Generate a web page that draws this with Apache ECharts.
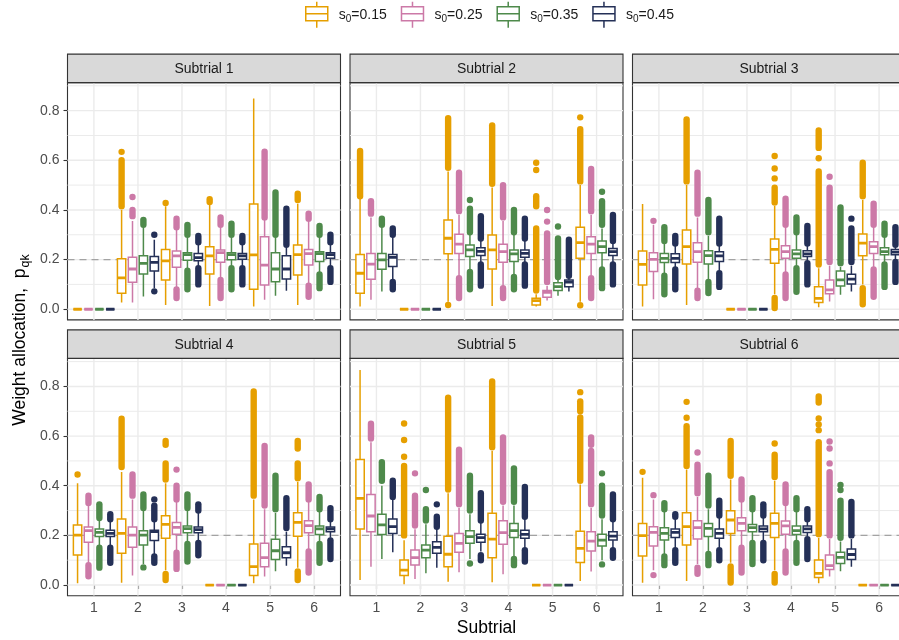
<!DOCTYPE html>
<html><head><meta charset="utf-8">
<script src="https://cdn.jsdelivr.net/npm/echarts@6/dist/echarts.min.js"></script>
<style>html,body{margin:0;padding:0;background:#fff}#c{width:899px;height:640px}</style>
</head><body><div id="c"></div>
<script>
const categories = ['1','2','3','4','5','6'];
const seriesNames = ['s0=0.15','s0=0.25','s0=0.35','s0=0.45'];
const facetTitles = ['Subtrial 1','Subtrial 2','Subtrial 3','Subtrial 4','Subtrial 5','Subtrial 6'];
const yTicks = [0, 0.2, 0.4, 0.6, 0.8];
const yMinorTicks = [0.1, 0.3, 0.5, 0.7, 0.9];
const refLine = 0.2;

// Box statistics per category: [lower whisker, Q1, median, Q3, upper whisker]; one row per s0 value
// Outliers per category: number = single point, [a, b] = dense run of overlapping points from a to b
const sub1Stats = [
  [[0,0,0,0,0],[0.027,0.064,0.126,0.203,0.40],[0.017,0.118,0.195,0.241,0.415],[0.013,0.142,0.215,0.252,0.42],[0.011,0.08,0.219,0.424,0.849],[0.017,0.138,0.22,0.259,0.425]],
  [[0,0,0,0,0],[0.027,0.109,0.162,0.209,0.355],[0.09,0.169,0.215,0.235,0.32],[0.13,0.189,0.228,0.239,0.33],[0.038,0.098,0.178,0.292,0.36],[0.105,0.178,0.224,0.241,0.355]],
  [[0,0,0,0,0],[0.051,0.142,0.185,0.215,0.33],[0.165,0.197,0.22,0.228,0.29],[0.175,0.199,0.22,0.228,0.29],[0.054,0.111,0.162,0.228,0.29],[0.15,0.192,0.224,0.232,0.29]],
  [[0,0,0,0,0],[0.085,0.154,0.189,0.212,0.28],[0.175,0.195,0.208,0.225,0.26],[0.175,0.201,0.215,0.225,0.26],[0.074,0.122,0.162,0.215,0.25],[0.175,0.205,0.22,0.228,0.26]]
];
const sub1Outliers = [
  [[],[[0.415,0.60],0.634],[0.428],[[0.432,0.443]],[],[[0.44,0.465]]],
  [[],[[0.375,0.40],0.452],[[0.33,0.365],[0.045,0.08]],[[0.34,0.37],[0.045,0.118]],[[0.37,0.635]],[[0.365,0.385],[0.05,0.095]]],
  [[],[[0.34,0.36]],[[0.30,0.34],[0.08,0.155]],[[0.30,0.345],[0.08,0.165]],[[0.30,0.47]],[[0.30,0.335],[0.085,0.14]]],
  [[],[0.30,0.072],[[0.27,0.295],[0.10,0.165]],[[0.27,0.295],[0.10,0.165]],[[0.26,0.405]],[[0.27,0.30],[0.11,0.165]]]
];
const sub2Stats = [
  [[0.011,0.064,0.145,0.22,0.445],[0,0,0,0,0],[0.03,0.223,0.286,0.359,0.555],[0.013,0.162,0.239,0.299,0.49],[0.011,0.017,0.035,0.044,0.06],[0.03,0.205,0.268,0.33,0.50]],
  [[0.038,0.121,0.182,0.225,0.37],[0,0,0,0,0],[0.135,0.225,0.262,0.302,0.38],[0.095,0.189,0.232,0.262,0.355],[0.035,0.048,0.068,0.075,0.095],[0.135,0.225,0.262,0.292,0.38]],
  [[0.071,0.161,0.199,0.225,0.33],[0,0,0,0,0],[0.16,0.212,0.239,0.259,0.30],[0.14,0.192,0.223,0.239,0.30],[0.054,0.075,0.091,0.107,0.12],[0.17,0.228,0.252,0.275,0.325]],
  [[0.12,0.172,0.209,0.22,0.29],[0,0,0,0,0],[0.19,0.216,0.233,0.248,0.275],[0.19,0.209,0.225,0.239,0.275],[0.071,0.091,0.109,0.118,0.125],[0.19,0.216,0.232,0.245,0.265]]
];
const sub2Outliers = [
  [[[0.455,0.638]],[],[[0.57,0.77],0.017],[[0.505,0.74]],[[0.075,0.325],[0.415,0.455],0.561,0.59],[[0.515,0.725],0.773,0.016]],
  [[[0.385,0.435]],[],[[0.395,0.55],[0.045,0.125]],[[0.37,0.50],[0.045,0.085]],[[0.11,0.305],0.353,0.40],[[0.395,0.565],[0.045,0.125]]],
  [[[0.34,0.365]],[],[[0.31,0.405],0.44,[0.08,0.15]],[[0.31,0.40],[0.08,0.13]],[[0.13,0.285],0.333],[[0.34,0.435],0.473,[0.085,0.16]]],
  [[[0.30,0.325],[0.08,0.11]],[],[[0.285,0.375],[0.095,0.18]],[[0.285,0.365],[0.095,0.18]],[[0.135,0.28]],[[0.275,0.38],[0.10,0.18]]]
];
const sub3Stats = [
  [[0.011,0.098,0.181,0.235,0.424],[0.017,0.182,0.252,0.319,0.50],[0,0,0,0,0],[0.06,0.185,0.241,0.283,0.416],[0.008,0.027,0.044,0.091,0.165],[0.10,0.215,0.266,0.303,0.44]],
  [[0.04,0.152,0.201,0.228,0.34],[0.085,0.189,0.232,0.268,0.37],[0,0,0,0,0],[0.15,0.205,0.232,0.256,0.33],[0.031,0.062,0.078,0.118,0.175],[0.17,0.225,0.252,0.272,0.33]],
  [[0.145,0.188,0.205,0.225,0.265],[0.12,0.182,0.216,0.236,0.295],[0,0,0,0,0],[0.175,0.205,0.223,0.239,0.30],[0.058,0.094,0.118,0.154,0.17],[0.19,0.219,0.232,0.248,0.29]],
  [[0.17,0.188,0.205,0.223,0.255],[0.155,0.192,0.215,0.232,0.255],[0,0,0,0,0],[0.195,0.212,0.223,0.236,0.255],[0.071,0.102,0.121,0.141,0.175],[0.20,0.219,0.23,0.241,0.25]]
];
const sub3Outliers = [
  [[],[[0.515,0.765]],[],[[0.43,0.49],0.527,0.567,0.617,[0.005,0.045]],[[0.18,0.555],0.608,[0.65,0.72]],[[0.455,0.59],[0.02,0.085]]],
  [[0.356],[[0.385,0.55],[0.045,0.075]],[],[[0.34,0.445],[0.045,0.14]],[[0.19,0.49],0.534],[[0.34,0.425],[0.05,0.16]]],
  [[[0.275,0.33],[0.06,0.135]],[[0.31,0.44],[0.065,0.11]],[],[[0.31,0.37],[0.07,0.165]],[[0.185,0.41]],[[0.30,0.345],[0.09,0.18]]],
  [[[0.265,0.295],[0.08,0.16]],[[0.265,0.365],[0.09,0.145]],[],[[0.265,0.335],[0.10,0.185]],[[0.19,0.325],0.365],[[0.26,0.33],[0.11,0.19]]]
];
const sub4Stats = [
  [[0.007,0.121,0.201,0.242,0.41],[0.009,0.128,0.208,0.266,0.455],[0.06,0.188,0.244,0.279,0.41],[0,0,0,0,0],[0.007,0.038,0.074,0.165,0.345],[0.07,0.197,0.252,0.291,0.415]],
  [[0.09,0.172,0.219,0.234,0.32],[0.038,0.152,0.201,0.234,0.345],[0.14,0.205,0.232,0.252,0.335],[0,0,0,0,0],[0.034,0.074,0.11,0.168,0.305],[0.145,0.211,0.239,0.259,0.335]],
  [[0.16,0.195,0.212,0.226,0.26],[0.085,0.161,0.201,0.219,0.30],[0.175,0.211,0.227,0.238,0.30],[0,0,0,0,0],[0.056,0.103,0.138,0.184,0.29],[0.175,0.204,0.226,0.238,0.295]],
  [[0.16,0.195,0.208,0.221,0.255],[0.125,0.179,0.215,0.221,0.255],[0.18,0.211,0.223,0.234,0.29],[0,0,0,0,0],[0.078,0.11,0.13,0.154,0.215],[0.19,0.215,0.226,0.234,0.255]]
];
const sub4Outliers = [
  [[0.445],[[0.475,0.67]],[[0.425,0.49],[0.565,0.58],[0.02,0.045]],[],[[0.36,0.78]],[[0.43,0.49],[0.55,0.58],[0.02,0.055]]],
  [[[0.33,0.36],[0.035,0.08]],[[0.36,0.445]],[[0.345,0.40],0.465,[0.065,0.13]],[],[[0.32,0.56]],[[0.345,0.405],[0.05,0.135]]],
  [[[0.27,0.325],[0.07,0.15]],[[0.31,0.365],0.071],[[0.31,0.365],[0.095,0.165]],[],[[0.305,0.44]],[[0.305,0.355],[0.09,0.165]]],
  [[[0.265,0.285],[0.09,0.15]],[[0.265,0.32],0.345,[0.09,0.115]],[[0.30,0.325],[0.12,0.17]],[],[[0.23,0.35]],[[0.265,0.31],[0.105,0.18]]]
];
const sub5Stats = [
  [[0.02,0.226,0.349,0.506,0.866],[0.003,0.038,0.06,0.101,0.18],[0.013,0.074,0.124,0.197,0.37],[0.011,0.11,0.185,0.289,0.54],[0,0,0,0,0],[0.016,0.091,0.148,0.217,0.405]],
  [[0.074,0.215,0.278,0.365,0.575],[0.024,0.081,0.11,0.141,0.225],[0.051,0.132,0.168,0.208,0.31],[0.043,0.164,0.211,0.259,0.32],[0,0,0,0,0],[0.054,0.137,0.177,0.215,0.31]],
  [[0.105,0.204,0.242,0.285,0.40],[0.047,0.11,0.141,0.161,0.245],[0.105,0.168,0.195,0.219,0.285],[0.115,0.191,0.219,0.248,0.32],[0,0,0,0,0],[0.10,0.157,0.181,0.205,0.265]],
  [[0.132,0.208,0.235,0.266,0.345],[0.07,0.128,0.152,0.174,0.225],[0.135,0.172,0.191,0.205,0.25],[0.15,0.188,0.204,0.221,0.265],[0,0,0,0,0],[0.15,0.181,0.197,0.215,0.255]]
];
const sub5Outliers = [
  [[],[[0.2,0.48],0.517,0.584,0.651],[[0.385,0.755]],[[0.555,0.82]],[],[[0.42,0.675],[0.70,0.74],0.777]],
  [[[0.59,0.65]],[[0.24,0.36],0.45],[[0.325,0.545]],[[0.335,0.595]],[],[[0.325,0.54],[0.565,0.595]]],
  [[[0.42,0.495]],[[0.26,0.305],0.383],[[0.30,0.44],0.087],[[0.335,0.47],[0.08,0.105]],[],[[0.28,0.40],0.45,0.083]],
  [[[0.355,0.42]],[[0.235,0.275],0.325],[[0.26,0.37],[0.10,0.12]],[[0.275,0.395],[0.095,0.14]],[],[[0.265,0.365],[0.11,0.14]]]
];
const sub6Stats = [
  [[0.009,0.117,0.199,0.248,0.432],[0.016,0.161,0.235,0.291,0.465],[0.09,0.208,0.262,0.299,0.425],[0.06,0.191,0.248,0.289,0.42],[0.007,0.03,0.047,0.101,0.19],[0,0,0,0,0]],
  [[0.06,0.157,0.212,0.235,0.345],[0.085,0.185,0.231,0.259,0.355],[0.16,0.219,0.248,0.271,0.335],[0.145,0.205,0.238,0.258,0.32],[0.034,0.063,0.078,0.121,0.185],[0,0,0,0,0]],
  [[0.125,0.181,0.208,0.231,0.295],[0.135,0.195,0.228,0.248,0.305],[0.18,0.215,0.231,0.244,0.295],[0.18,0.204,0.219,0.238,0.295],[0.056,0.087,0.111,0.132,0.175],[0,0,0,0,0]],
  [[0.15,0.191,0.212,0.226,0.265],[0.15,0.188,0.208,0.226,0.27],[0.18,0.215,0.226,0.238,0.27],[0.195,0.212,0.226,0.238,0.255],[0.074,0.103,0.123,0.145,0.185],[0,0,0,0,0]]
];
const sub6Outliers = [
  [[0.456],[[0.48,0.64],0.674,0.738],[[0.44,0.58],[0.01,0.075]],[[0.435,0.525],0.57,[0.01,0.045]],[[0.205,0.575],0.624,0.647,0.671,[0.735,0.76]],[]],
  [[0.362,0.04],[[0.37,0.485],0.534,[0.045,0.07]],[[0.345,0.425],[0.05,0.15]],[[0.33,0.405],[0.05,0.135]],[[0.2,0.455],0.49,0.55,0.578],[]],
  [[[0.305,0.33],[0.08,0.115]],[[0.32,0.44],[0.08,0.125]],[[0.305,0.35],[0.085,0.17]],[[0.305,0.35],[0.09,0.17]],[[0.19,0.34],0.383,0.403],[]],
  [[[0.275,0.285],[0.09,0.14]],[[0.28,0.34],[0.10,0.14]],[[0.28,0.325],[0.10,0.17]],[[0.265,0.305],[0.105,0.185]],[[0.20,0.335]],[]]
];

// ---------- styling / layout ----------
const COLORS = ['#E69F00', '#CC79A7', '#4E8A4B', '#243057'];
const FONT = '"Liberation Sans", Arial, Helvetica, sans-serif';
const COL_LEFT = [67.5, 350, 632.5];
const ROW_TOP = [82.6, 358.4];
const PW = 273, PH = 237.3, STRIP_H = 28.5;
const Y_MIN = -0.043, Y_MAX = 0.913;
const X_MIN = 0.4, X_MAX = 6.6;
const DODGE = 0.2476, BOX_W = 0.19, PT_R = 3.2;
const xTickVals = categories.map((c, i) => i + 1);

const allStats = [sub1Stats, sub2Stats, sub3Stats, sub4Stats, sub5Stats, sub6Stats];
const allOutliers = [sub1Outliers, sub2Outliers, sub3Outliers, sub4Outliers, sub5Outliers, sub6Outliers];

const grids = [], xAxes = [], yAxes = [], series = [], graphics = [];

function boxRenderer(s, outl) {
  return function (params, api) {
    const x = api.value(0) + (s - 1.5) * DODGE;
    const lo = api.value(1), q1 = api.value(2), med = api.value(3), q3 = api.value(4), hi = api.value(5);
    const px = api.coord([x, 0])[0];
    const half = (api.coord([x + BOX_W / 2, 0])[0] - api.coord([x - BOX_W / 2, 0])[0]) / 2;
    const Y = v => api.coord([x, v])[1];
    const color = COLORS[s];
    const children = [];
    (outl[params.dataIndex] || []).forEach(o => {
      if (Array.isArray(o)) {
        children.push({ type: 'line', shape: { x1: px, y1: Y(o[0]), x2: px, y2: Y(o[1]) },
          style: { stroke: color, lineWidth: PT_R * 2, lineCap: 'round' } });
      } else {
        children.push({ type: 'circle', shape: { cx: px, cy: Y(o), r: PT_R }, style: { fill: color } });
      }
    });
    children.push({ type: 'line', shape: { x1: px, y1: Y(lo), x2: px, y2: Y(q1) }, style: { stroke: color, lineWidth: 1.5 } });
    children.push({ type: 'line', shape: { x1: px, y1: Y(q3), x2: px, y2: Y(hi) }, style: { stroke: color, lineWidth: 1.5 } });
    children.push({ type: 'rect', shape: { x: px - half, y: Y(q3), width: 2 * half, height: Y(q1) - Y(q3) },
      style: { fill: '#ffffff', stroke: color, lineWidth: 1.5 } });
    children.push({ type: 'line', shape: { x1: px - half, y1: Y(med), x2: px + half, y2: Y(med) },
      style: { stroke: color, lineWidth: 2.8 } });
    return { type: 'group', children };
  };
}

const gridLineData = [];
xTickVals.forEach(v => gridLineData.push([0, v]));
yTicks.forEach(v => gridLineData.push([1, v]));
yMinorTicks.forEach(v => gridLineData.push([2, v]));

for (let f = 0; f < 6; f++) {
  const r = Math.floor(f / 3), c = f % 3;
  const left = COL_LEFT[c], top = ROW_TOP[r];
  grids.push({ left, top, width: PW, height: PH, show: true, backgroundColor: '#ffffff',
    borderColor: '#333333', borderWidth: 1.1, containLabel: false, outerBoundsMode: 'none' });
  xAxes.push({ gridIndex: f, type: 'value', min: X_MIN, max: X_MAX,
    axisLine: { show: false }, splitLine: { show: false },
    axisTick: { show: r === 1, customValues: xTickVals, length: 4, lineStyle: { color: '#333333', width: 1.1 } },
    axisLabel: { show: r === 1, customValues: xTickVals, formatter: v => categories[Math.round(v) - 1],
      margin: 5, fontSize: 14, color: '#4d4d4d', fontFamily: FONT } });
  yAxes.push({ gridIndex: f, type: 'value', min: Y_MIN, max: Y_MAX,
    axisLine: { show: false }, splitLine: { show: false },
    axisTick: { show: c === 0, customValues: yTicks, length: 4, lineStyle: { color: '#333333', width: 1.1 } },
    axisLabel: { show: c === 0, customValues: yTicks, formatter: v => v.toFixed(1),
      margin: 8, fontSize: 14, color: '#4d4d4d', fontFamily: FONT } });

  series.push({ type: 'custom', xAxisIndex: f, yAxisIndex: f, silent: true, z: 1, clip: true,
    animation: false, data: gridLineData,
    renderItem: (params, api) => {
      const cs = params.coordSys;
      const kind = api.value(0), v = api.value(1);
      if (kind === 0) {
        const x = api.coord([v, 0])[0];
        return { type: 'line', shape: { x1: x, y1: cs.y, x2: x, y2: cs.y + cs.height }, style: { stroke: '#ebebeb', lineWidth: 1.4 } };
      }
      const y = api.coord([1, v])[1];
      return { type: 'line', shape: { x1: cs.x, y1: y, x2: cs.x + cs.width, y2: y },
        style: { stroke: '#ebebeb', lineWidth: kind === 1 ? 1.4 : 1.0 } };
    } });
  series.push({ type: 'custom', xAxisIndex: f, yAxisIndex: f, silent: true, z: 2, clip: true,
    animation: false, data: [[1, refLine]],
    renderItem: (params, api) => {
      const cs = params.coordSys;
      const y = api.coord([1, api.value(1)])[1];
      return { type: 'line', shape: { x1: cs.x, y1: y, x2: cs.x + cs.width, y2: y },
        style: { stroke: '#a3a3a3', lineWidth: 1.3, lineDash: [7, 5] } };
    } });

  for (let s = 0; s < 4; s++) {
    series.push({ type: 'custom', name: seriesNames[s], xAxisIndex: f, yAxisIndex: f, z: 3, clip: true,
      animation: false, itemStyle: { color: COLORS[s] },
      data: categories.map((cat, i) => [i + 1].concat(allStats[f][s][i])),
      encode: { x: 0, y: [1, 2, 3, 4, 5] },
      renderItem: boxRenderer(s, allOutliers[f][s]) });
  }

  graphics.push({ type: 'rect', shape: { x: left, y: top - STRIP_H, width: PW, height: STRIP_H },
    style: { fill: '#d9d9d9', stroke: '#333333', lineWidth: 1.1 }, z: 10 });
  graphics.push({ type: 'text', x: left + PW / 2, y: top - STRIP_H / 2 + 0.5,
    style: { text: facetTitles[f], fill: '#1a1a1a', fontSize: 14, fontFamily: FONT, align: 'center', verticalAlign: 'middle' }, z: 11 });
}

graphics.push({ type: 'text', x: 486.5, y: 628,
  style: { text: 'Subtrial', fill: '#000000', fontSize: 17.5, fontFamily: FONT, align: 'center', verticalAlign: 'middle' } });
graphics.push({ type: 'text', x: 20, y: 340, rotation: Math.PI / 2,
  style: { text: '{a|Weight allocation,  p}{b|qk}', align: 'center', verticalAlign: 'middle',
    rich: { a: { fontSize: 17.5, fontFamily: FONT, fill: '#000000', lineHeight: 24, verticalAlign: 'middle' },
            b: { fontSize: 12.5, fontFamily: FONT, fill: '#000000', lineHeight: 24, verticalAlign: 'bottom', padding: [0, 0, 0, 1] } } } });

const option = {
  backgroundColor: '#ffffff',
  animation: false,
  legend: {
    data: seriesNames.map((n, i) => ({ name: n, itemStyle: { color: '#ffffff', borderColor: COLORS[i], borderWidth: 1.5 } })),
    icon: 'path://M11,0L11,5M0,5L22,5L22,19L0,19ZM0,12L22,12M11,19L11,26',
    itemWidth: 22, itemHeight: 26, itemGap: 14, left: 305, top: 1, padding: 0, selectedMode: false,
    formatter: n => '{a|s}{b|0}{a|' + n.slice(2) + '}',
    textStyle: { padding: [0, 0, 0, 6], rich: {
      a: { fontSize: 14, fontFamily: FONT, color: '#1a1a1a', lineHeight: 18, verticalAlign: 'middle' },
      b: { fontSize: 10, fontFamily: FONT, color: '#1a1a1a', lineHeight: 18, verticalAlign: 'bottom' } } }
  },
  grid: grids, xAxis: xAxes, yAxis: yAxes, series, graphic: graphics
};
const chart = echarts.init(document.getElementById('c'), null, { renderer: 'canvas' });
chart.setOption(option);
</script></body></html>
